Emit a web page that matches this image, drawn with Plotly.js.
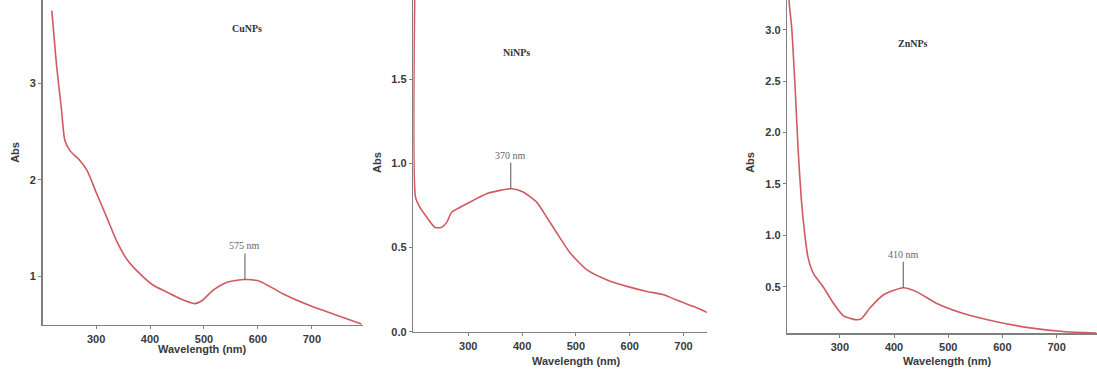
<!DOCTYPE html>
<html>
<head>
<meta charset="utf-8">
<script src="https://cdn.plot.ly/plotly-3.0.1.min.js"></script>
<style>html,body{margin:0;padding:0;background:#fff;}#chart{width:1097px;height:385px;}</style>
</head>
<body>
<div id="chart"></div>
<script>
// ---- Data ----
var cuX = [218, 227, 236, 242, 252, 270, 283, 301, 320, 338, 357, 381, 406, 431, 456, 483, 496, 517, 542, 576, 604, 647, 696, 746, 792];
var cuY = [3.75, 3.17, 2.72, 2.41, 2.30, 2.20, 2.10, 1.86, 1.61, 1.37, 1.18, 1.03, 0.91, 0.84, 0.77, 0.72, 0.75, 0.86, 0.94, 0.97, 0.95, 0.82, 0.70, 0.60, 0.51];

var niX = [201, 202, 210, 223, 238, 250, 260, 269, 285, 309, 334, 359, 381, 402, 427, 446, 464, 489, 520, 557, 595, 632, 663, 694, 719, 744];
var niY = [2.10, 0.80, 0.74, 0.68, 0.62, 0.62, 0.65, 0.71, 0.74, 0.78, 0.82, 0.84, 0.85, 0.83, 0.77, 0.68, 0.59, 0.47, 0.37, 0.31, 0.27, 0.24, 0.22, 0.18, 0.15, 0.115];

var znX = [205, 207, 211, 217, 223, 229, 235, 241, 251, 269, 288, 306, 328, 340, 355, 380, 417, 442, 478, 528, 589, 651, 712, 774];
var znY = [3.40, 3.23, 3.03, 2.48, 1.83, 1.34, 1.02, 0.79, 0.63, 0.50, 0.34, 0.22, 0.18, 0.19, 0.29, 0.42, 0.49, 0.45, 0.34, 0.24, 0.16, 0.10, 0.065, 0.05];

var sampleNames = ["CuNPs", "NiNPs", "ZnNPs"];
var peakLabels = ["575 nm", "370 nm", "410 nm"];
var peakX = [576, 379, 417];
var peakY = [0.97, 0.85, 0.49];
var nameX = [580, 390, 435];
var nameY = [3.57, 1.66, 2.87];

var xTickVals = [300, 400, 500, 600, 700];
var cuYTicks = [1, 2, 3];
var niYTicks = [0, 0.5, 1.0, 1.5];
var znYTicks = [0.5, 1.0, 1.5, 2.0, 2.5, 3.0];

var xTitle = "Wavelength (nm)";
var yTitle = "Abs";

// ---- Styling ----
var lineColor = "#d05a62";
var axisColor = "#808080";
var tickFont = {family: "Liberation Sans, Arial, sans-serif", size: 11, color: "#3a3a3a", weight: "bold"};

function trace(x, y, n) {
  return {x: x, y: y, xaxis: "x" + (n === 1 ? "" : n), yaxis: "y" + (n === 1 ? "" : n),
    mode: "lines", line: {color: lineColor, width: 1.6, shape: "spline", smoothing: 0.6},
    hoverinfo: "skip", showlegend: false, cliponaxis: true};
}

function xax(domain, range, anchor) {
  return {domain: domain, range: range, anchor: anchor, showgrid: false, zeroline: false,
    showline: true, linecolor: axisColor, linewidth: 1.5, ticks: "outside", ticklen: 3,
    tickcolor: axisColor, tickwidth: 1, tickvals: xTickVals, tickfont: tickFont, automargin: false};
}
function yax(domain, range, anchor, tickvals, fmt) {
  return {domain: domain, range: range, anchor: anchor, showgrid: false, zeroline: false,
    showline: true, linecolor: axisColor, linewidth: 1.5, ticks: "outside", ticklen: 3,
    tickcolor: axisColor, tickwidth: 1, tickvals: tickvals, tickformat: fmt, tickfont: tickFont, automargin: false};
}

var data = [trace(cuX, cuY, 1), trace(niX, niY, 2), trace(znX, znY, 3)];

var layout = {
  width: 1097, height: 385,
  margin: {l: 0, r: 0, t: 0, b: 0},
  paper_bgcolor: "#ffffff", plot_bgcolor: "#ffffff",
  xaxis: xax([0.0389, 0.331], [201, 795], "y"),
  yaxis: yax([0.156, 1], [0.5, 3.86], "x", cuYTicks, "d"),
  xaxis2: xax([0.3768, 0.6442], [198, 743], "y2"),
  yaxis2: yax([0.138, 1], [0, 1.97], "x2", niYTicks, ".1f"),
  xaxis3: xax([0.7177, 0.9997], [203, 774], "y3"),
  yaxis3: yax([0.134, 1], [0.046, 3.29], "x3", znYTicks, ".1f"),
  annotations: [],
  showlegend: false
};

var refs = [["x", "y"], ["x2", "y2"], ["x3", "y3"]];
var titleFont = {family: "Liberation Sans, Arial, sans-serif", size: 11, color: "#3a3a3a", weight: "bold"};
var xTitlePos = [[0.185, 0.115], [0.5257, 0.0835], [0.864, 0.0835]];
var yTitlePos = [[0.0137, 0.603], [0.3437, 0.577], [0.6837, 0.577]];

for (var i = 0; i < 3; i++) {
  layout.annotations.push({
    xref: refs[i][0], yref: refs[i][1], x: peakX[i], y: peakY[i],
    text: peakLabels[i], showarrow: true, arrowhead: 0, arrowwidth: 1, arrowcolor: "#555",
    ax: 0, ay: -26, standoff: 0, yanchor: "bottom",
    font: {family: "Liberation Serif, Times New Roman, serif", size: 10, color: "#666"}
  });
  layout.annotations.push({
    xref: refs[i][0], yref: refs[i][1], x: nameX[i], y: nameY[i],
    text: sampleNames[i], showarrow: false,
    font: {family: "Liberation Serif, Times New Roman, serif", size: 10, color: "#333", weight: "bold"}
  });
  layout.annotations.push({
    xref: "paper", yref: "paper", x: xTitlePos[i][0], y: xTitlePos[i][1],
    xanchor: "center", yanchor: "top",
    text: xTitle, showarrow: false, font: titleFont
  });
  layout.annotations.push({
    xref: "paper", yref: "paper", x: yTitlePos[i][0], y: yTitlePos[i][1],
    xanchor: "center", yanchor: "middle",
    text: yTitle, showarrow: false, textangle: -90, font: titleFont
  });
}

Plotly.newPlot("chart", data, layout, {staticPlot: true, displayModeBar: false});
</script>
</body>
</html>
